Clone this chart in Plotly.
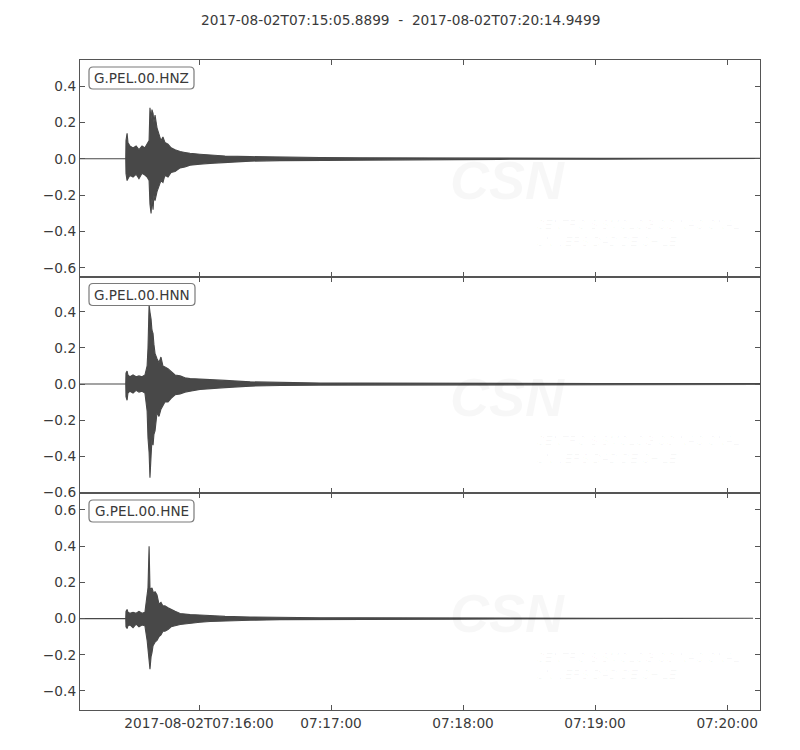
import pandas as pd
import plotly.graph_objects as go
from plotly.subplots import make_subplots

START = "2017-08-02 07:15:05.8899"
END = "2017-08-02 07:20:14.9499"
TITLE = "2017-08-02T07:15:05.8899\u00a0\u00a0-\u00a0\u00a02017-08-02T07:20:14.9499"

channels = ["G.PEL.00.HNZ", "G.PEL.00.HNN", "G.PEL.00.HNE"]

# envelope of each trace: seconds after START, upper and lower amplitude
hnz_t = [0, 20.8, 20.9, 21.4, 21.8, 22.7, 24.1, 25.5, 26.8, 28.2, 29.5, 30.5, 31.4, 31.8, 32.3, 32.7,
         33.2, 33.6, 34.1, 35.0, 35.9, 36.8, 37.7, 38.6, 40.0, 41.4, 43.2, 45.5, 47.7, 50.0, 54.5,
         59.1, 65.9, 77.3, 90.9, 109.1, 127.3, 145.5, 168.2, 190.9, 236.4, 281.8, 309.06]
hnz_up = [0, 0, 0.10, 0.14, 0.09, 0.07, 0.06, 0.07, 0.05, 0.07, 0.06, 0.08, 0.10, 0.28, 0.22, 0.27,
          0.25, 0.20, 0.24, 0.17, 0.14, 0.10, 0.12, 0.09, 0.08, 0.06, 0.05, 0.04, 0.035, 0.03, 0.025,
          0.02, 0.015, 0.012, 0.009, 0.007, 0.006, 0.005, 0.004, 0.003, 0.002, 0.002, 0.002]
hnz_lo = [0, 0, -0.08, -0.12, -0.11, -0.09, -0.10, -0.085, -0.11, -0.08, -0.09, -0.10, -0.12, -0.25,
          -0.30, -0.22, -0.28, -0.20, -0.23, -0.18, -0.15, -0.12, -0.13, -0.09, -0.10, -0.075, -0.07,
          -0.05, -0.045, -0.035, -0.03, -0.025, -0.018, -0.013, -0.01, -0.008, -0.006, -0.005, -0.004,
          -0.003, -0.002, -0.002, -0.002]

hnn_t = [0, 20.8, 20.9, 21.4, 21.8, 22.7, 24.1, 25.5, 26.8, 28.2, 29.5, 30.5, 30.9, 31.4, 31.8, 32.3,
         32.7, 33.2, 33.6, 34.1, 35.0, 35.9, 36.8, 37.7, 38.6, 40.0, 41.4, 43.2, 45.5, 47.7, 50.0,
         54.5, 59.1, 65.9, 77.3, 90.9, 109.1, 127.3, 145.5, 168.2, 190.9, 236.4, 281.8, 309.06]
hnn_up = [0, 0, 0.06, 0.072, 0.05, 0.04, 0.05, 0.04, 0.045, 0.04, 0.05, 0.10, 0.20, 0.44, 0.40, 0.36,
          0.30, 0.28, 0.22, 0.17, 0.14, 0.12, 0.15, 0.10, 0.095, 0.085, 0.07, 0.05, 0.045, 0.035, 0.03,
          0.028, 0.025, 0.02, 0.012, 0.008, 0.006, 0.005, 0.004, 0.003, 0.003, 0.003, 0.003, 0.003]
hnn_lo = [0, 0, -0.07, -0.09, -0.05, -0.04, -0.05, -0.035, -0.045, -0.04, -0.05, -0.15, -0.30, -0.38,
          -0.52, -0.40, -0.31, -0.34, -0.28, -0.26, -0.16, -0.18, -0.14, -0.12, -0.10, -0.10, -0.08,
          -0.06, -0.055, -0.045, -0.04, -0.03, -0.025, -0.02, -0.012, -0.008, -0.006, -0.005, -0.004,
          -0.003, -0.003, -0.003, -0.003, -0.003]

hne_t = [0, 20.8, 20.9, 21.4, 21.8, 22.7, 24.1, 25.5, 26.8, 28.2, 29.5, 30.5, 30.9, 31.4, 31.8, 32.3,
         32.7, 33.2, 33.6, 34.1, 35.0, 35.9, 36.8, 37.7, 38.6, 40.0, 41.4, 43.2, 45.5, 47.7, 50.0,
         54.5, 59.1, 65.9, 77.3, 90.9, 109.1, 127.3, 145.5, 168.2, 190.9, 236.4, 281.8, 305.9]
hne_up = [0, 0, 0.04, 0.05, 0.035, 0.03, 0.035, 0.03, 0.04, 0.03, 0.035, 0.16, 0.17, 0.40, 0.17, 0.16,
          0.17, 0.15, 0.14, 0.15, 0.13, 0.08, 0.09, 0.07, 0.07, 0.06, 0.05, 0.04, 0.028, 0.025, 0.022,
          0.02, 0.016, 0.012, 0.009, 0.006, 0.005, 0.004, 0.003, 0.003, 0.002, 0.002, 0.002, 0.002]
hne_lo = [0, 0, -0.045, -0.055, -0.04, -0.035, -0.05, -0.03, -0.045, -0.035, -0.04, -0.12, -0.19,
          -0.23, -0.28, -0.21, -0.19, -0.15, -0.14, -0.13, -0.12, -0.10, -0.09, -0.07, -0.07, -0.06,
          -0.045, -0.04, -0.033, -0.028, -0.025, -0.02, -0.016, -0.012, -0.009, -0.006, -0.005,
          -0.004, -0.003, -0.003, -0.002, -0.002, -0.002, -0.002]

y_ranges = [[-0.648, 0.543], [-0.607, 0.596], [-0.505, 0.692]]
y_ticks = [[0.4, 0.2, 0.0, -0.2, -0.4, -0.6],
           [0.4, 0.2, 0.0, -0.2, -0.4, -0.6],
           [0.6, 0.4, 0.2, 0.0, -0.2, -0.4]]
x_tick_times = ["2017-08-02 07:16:00", "2017-08-02 07:17:00", "2017-08-02 07:18:00",
                "2017-08-02 07:19:00", "2017-08-02 07:20:00"]
x_tick_labels = ["2017-08-02T07:16:00", "07:17:00", "07:18:00", "07:19:00", "07:20:00"]

TRACE_COLOR = "#484848"
FRAME_COLOR = "#555555"
TEXT_COLOR = "#3a3a3a"
FONT = "DejaVu Sans"
FS = 13.7

base = pd.Timestamp(START)


def to_times(offsets):
    return [(base + pd.Timedelta(seconds=s)).strftime("%Y-%m-%d %H:%M:%S.%f") for s in offsets]


traces = [(hnz_t, hnz_up, hnz_lo), (hnn_t, hnn_up, hnn_lo), (hne_t, hne_up, hne_lo)]

fig = make_subplots(rows=3, cols=1, shared_xaxes=True, vertical_spacing=0)

for i, (t, up, lo) in enumerate(traces):
    times = to_times(t)
    fig.add_trace(go.Scatter(
        x=times + times[::-1], y=up + lo[::-1],
        mode="lines", fill="toself", fillcolor=TRACE_COLOR,
        line=dict(color=TRACE_COLOR, width=1.1), hoverinfo="skip", showlegend=False),
        row=i + 1, col=1)

for i in range(3):
    r = i + 1
    fig.update_yaxes(row=r, col=1, range=y_ranges[i], tickvals=y_ticks[i],
                     ticktext=[("\u2212" if v < 0 else "") + f"{abs(v):.1f}" for v in y_ticks[i]],
                     ticks="inside", ticklen=5, tickcolor=FRAME_COLOR, tickwidth=1,
                     showline=True, mirror="ticks", linecolor=FRAME_COLOR, linewidth=1.3,
                     showgrid=False, zeroline=False,
                     tickfont=dict(family=FONT, size=FS, color=TEXT_COLOR))
    fig.update_xaxes(row=r, col=1, type="date", range=[START, END],
                     tickvals=x_tick_times, ticktext=x_tick_labels,
                     ticks="inside", ticklen=5, tickcolor=FRAME_COLOR, tickwidth=1,
                     showline=True, mirror="ticks", linecolor=FRAME_COLOR, linewidth=1.3,
                     showgrid=False, zeroline=False, showticklabels=(r == 3),
                     tickfont=dict(family=FONT, size=FS, color=TEXT_COLOR))

# page offset of the figure inside the browser body (default 8 px margin)
OFF = 8
W, H = 800 - OFF, 750 - OFF
L, R, T, B = 80 - OFF, 40, 60 - OFF, 40
pw, ph = W - L - R, H - T - B


def px(x):
    # x in page pixels -> paper
    return (x - OFF - L) / pw


def py(y):
    return 1 - (y - OFF - T) / ph


shapes = []
annotations = []
box_specs = [(141.5, 78.0, 105, 22), (142.0, 294.5, 106, 22), (141.5, 511.0, 105, 22)]
for i, (cx, cy, bw, bh) in enumerate(box_specs):
    rr = 4
    hw, hh = bw / 2, bh / 2
    path = (f"M {-hw + rr},{-hh} L {hw - rr},{-hh} Q {hw},{-hh} {hw},{-hh + rr} "
            f"L {hw},{hh - rr} Q {hw},{hh} {hw - rr},{hh} L {-hw + rr},{hh} "
            f"Q {-hw},{hh} {-hw},{hh - rr} L {-hw},{-hh + rr} Q {-hw},{-hh} {-hw + rr},{-hh} Z")
    shapes.append(dict(type="path", xref="paper", yref="paper", xsizemode="pixel",
                       ysizemode="pixel", xanchor=px(cx), yanchor=py(cy), path=path,
                       line=dict(color="#7a7a7a", width=1.2), fillcolor="white", layer="above"))
    annotations.append(dict(x=px(cx), y=py(cy), xref="paper", yref="paper", text=channels[i],
                            showarrow=False, xanchor="center", yanchor="middle",
                            font=dict(family=FONT, size=13.6, color=TEXT_COLOR)))

# very faint watermark in each panel
WM = "rgba(0,0,0,0.03)"
for i in range(3):
    dy = i * 216.7
    annotations.append(dict(x=px(507), y=py(180 + dy), xref="paper", yref="paper",
                            xanchor="center", yanchor="middle",
                            text="<b><i>CSN</i></b>", showarrow=False,
                            font=dict(family="Liberation Sans", size=54, color=WM)))
    annotations.append(dict(x=px(534), y=py(224 + dy), xref="paper", yref="paper", xanchor="left",
                            yanchor="middle", text="<i>CENTRO SISMOLÓGICO NACIONAL</i>",
                            showarrow=False,
                            font=dict(family="Liberation Sans", size=12, color=WM)))
    annotations.append(dict(x=px(534), y=py(242 + dy), xref="paper", yref="paper", xanchor="left",
                            yanchor="middle", text="<i>UNIVERSIDAD DE CHILE</i>", showarrow=False,
                            font=dict(family="Liberation Sans", size=12, color=WM)))

annotations.append(dict(x=px(400), y=py(20), xref="paper", yref="paper", text=TITLE, showarrow=False,
                        xanchor="center", yanchor="middle",
                        font=dict(family=FONT, size=FS, color=TEXT_COLOR)))

fig.update_layout(width=W, height=H, margin=dict(l=L, r=R, t=T, b=B),
                  paper_bgcolor="white", plot_bgcolor="white",
                  shapes=shapes, annotations=annotations, showlegend=False)

fig.write_html("out.html")
